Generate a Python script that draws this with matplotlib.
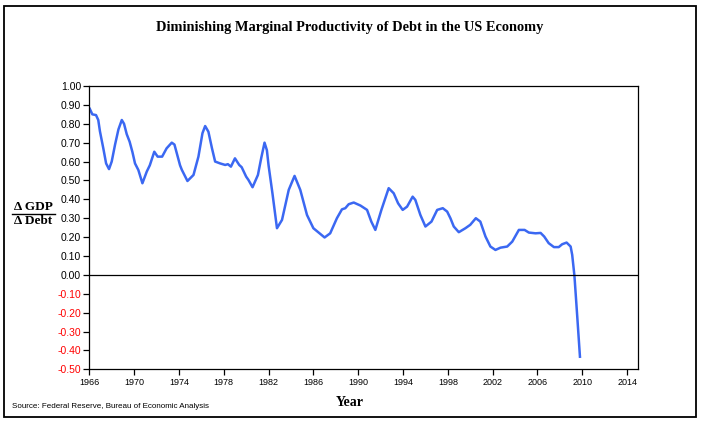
import matplotlib
matplotlib.use("Agg")
import matplotlib.pyplot as plt
from matplotlib.patches import Rectangle
from matplotlib.lines import Line2D

# values
years = [1966.0, 1966.27, 1966.6, 1966.8, 1966.95, 1967.25, 1967.5, 1967.76, 1968.0,
         1968.3, 1968.6, 1968.9, 1969.1, 1969.34, 1969.6, 1969.85, 1970.08, 1970.38,
         1970.74, 1971.13, 1971.4, 1971.8, 1972.1, 1972.5, 1972.9, 1973.36, 1973.6,
         1974.1, 1974.26, 1974.76, 1975.3, 1975.74, 1976.1, 1976.34, 1976.63, 1976.95,
         1977.23, 1977.68, 1978.13, 1978.37, 1978.64, 1979.0, 1979.38, 1979.6, 1980.0,
         1980.2, 1980.57, 1981.05, 1981.35, 1981.64, 1981.85, 1982.0, 1982.35, 1982.75,
         1983.2, 1983.8, 1984.32, 1984.83, 1985.43, 1986.0, 1986.47, 1987.0, 1987.5,
         1988.1, 1988.55, 1988.85, 1989.15, 1989.6, 1990.2, 1990.79, 1991.17, 1991.53,
         1992.07, 1992.72, 1993.17, 1993.56, 1993.97, 1994.36, 1994.86, 1995.1, 1995.55,
         1996.0, 1996.54, 1997.05, 1997.55, 1997.94, 1998.23, 1998.53, 1998.98, 1999.57,
         2000.0, 2000.5, 2000.9, 2001.36, 2001.8, 2002.25, 2002.7, 2003.3, 2003.75,
         2004.34, 2004.85, 2005.23, 2005.83, 2006.28, 2006.6, 2007.0, 2007.47, 2007.9,
         2008.2, 2008.6, 2008.96, 2009.1, 2009.3, 2009.55, 2009.8]
ratio = [0.885, 0.85, 0.846, 0.82, 0.76, 0.67, 0.59, 0.56, 0.60,
         0.69, 0.77, 0.82, 0.80, 0.745, 0.705, 0.65, 0.59, 0.555,
         0.485, 0.547, 0.58, 0.652, 0.626, 0.626, 0.67, 0.70, 0.69,
         0.58, 0.556, 0.497, 0.529, 0.626, 0.75, 0.788, 0.758, 0.67,
         0.60, 0.59, 0.582, 0.586, 0.573, 0.617, 0.582, 0.57, 0.52,
         0.503, 0.464, 0.529, 0.62, 0.70, 0.66, 0.58, 0.43, 0.247,
         0.291, 0.45, 0.524, 0.45, 0.317, 0.247, 0.224, 0.198, 0.22,
         0.30, 0.347, 0.353, 0.374, 0.383, 0.367, 0.344, 0.282, 0.238,
         0.344, 0.459, 0.432, 0.379, 0.344, 0.361, 0.414, 0.397, 0.317,
         0.256, 0.282, 0.344, 0.353, 0.335, 0.30, 0.256, 0.226, 0.247,
         0.265, 0.30, 0.282, 0.203, 0.15, 0.132, 0.144, 0.15, 0.176,
         0.238, 0.238, 0.224, 0.22, 0.222, 0.203, 0.168, 0.147, 0.147,
         0.162, 0.171, 0.15, 0.106, -0.005, -0.22, -0.44]

xticks = list(range(1966, 2015, 4))
yticks = [-0.5, -0.4, -0.3, -0.2, -0.1, 0.0, 0.1, 0.2, 0.3, 0.4, 0.5, 0.6, 0.7, 0.8, 0.9, 1.0]

fig = plt.figure(figsize=(7.01, 4.21), dpi=100)
fig.patches.append(Rectangle((4 / 701, 4 / 421), 692 / 701, 411 / 421,
                             transform=fig.transFigure, fill=False,
                             edgecolor="black", linewidth=1.3))

ax = fig.add_axes([89.3 / 701, 51.7 / 421, 549 / 701, 283.3 / 421])
ax.plot(years, ratio, color="#3b68f2", linewidth=1.8,
        solid_joinstyle="round", solid_capstyle="butt")
ax.axhline(0, color="black", linewidth=0.9)

ax.set_xlim(1966, 2015)
ax.set_ylim(-0.5, 1.0)
ax.set_xticks(xticks)
ax.set_xticklabels([str(t) for t in xticks], fontsize=6.5, family="Liberation Sans")
ax.set_yticks(yticks)
ax.set_yticklabels(["%.2f" % v for v in yticks], fontsize=7.5, family="Liberation Sans")
for lab, v in zip(ax.get_yticklabels(), yticks):
    if v < 0:
        lab.set_color("#ff0000")
ax.tick_params(length=4, width=0.9, pad=2)
for s in ax.spines.values():
    s.set_linewidth(0.9)

fig.text(350 / 701, 1 - 28 / 421, "Diminishing Marginal Productivity of Debt in the US Economy",
         ha="center", va="center", fontsize=10.4, fontweight="bold", family="Liberation Serif")
fig.text(33 / 701, 1 - 207 / 421, "\u0394 GDP", ha="center", va="center",
         fontsize=9.5, fontweight="bold", family="Liberation Serif")
fig.add_artist(Line2D([12 / 701, 55 / 701], [1 - 214 / 421, 1 - 214 / 421],
                      transform=fig.transFigure, color="black", linewidth=1))
fig.text(33 / 701, 1 - 221 / 421, "\u0394 Debt", ha="center", va="center",
         fontsize=9.5, fontweight="bold", family="Liberation Serif")
fig.text(350 / 701, 1 - 403 / 421, "Year", ha="center", va="center",
         fontsize=10, fontweight="bold", family="Liberation Serif")
fig.text(12 / 701, 1 - 406 / 421, "Source: Federal Reserve, Bureau of Economic Analysis",
         ha="left", va="center", fontsize=5.8, family="Liberation Sans")

fig.savefig("out.png", dpi=100)
